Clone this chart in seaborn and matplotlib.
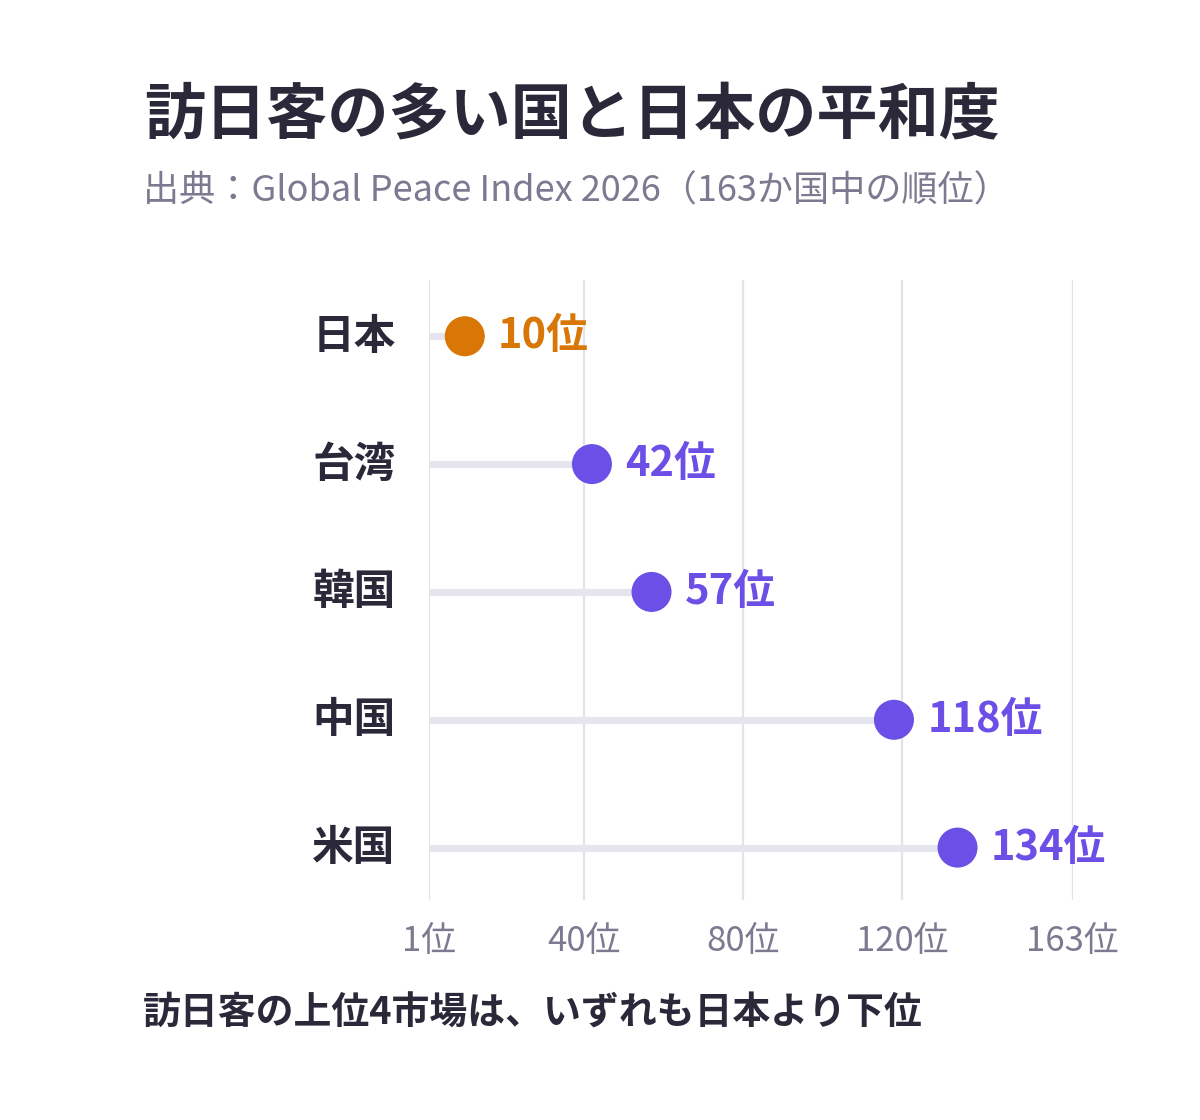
import matplotlib
matplotlib.use("Agg")
import matplotlib.pyplot as plt
import matplotlib.transforms as mtransforms
import seaborn as sns
import pandas as pd

# Data
countries = ["日本", "台湾", "韓国", "中国", "米国"]
ranks = [10, 42, 57, 118, 134]
groups = ["日本", "訪日客上位", "訪日客上位", "訪日客上位", "訪日客上位"]
tick_values = [1, 40, 80, 120, 163]
tick_labels = ["1位", "40位", "80位", "120位", "163位"]

title = "訪日客の多い国と日本の平和度"
subtitle = "出典：Global Peace Index 2026（163か国中の順位）"
footer = "訪日客の上位4市場は、いずれも日本より下位"

df = pd.DataFrame({"country": countries, "rank": ranks, "group": groups})
df["pos"] = range(len(df))

# Style
sns.set_theme(style="white")
plt.rcParams["font.family"] = ["Noto Sans CJK JP", "DejaVu Sans"]

palette = {"日本": "#D97706", "訪日客上位": "#6B4FE6"}
dark = "#2B2939"
gray = "#7C7A90"
grid_color = "#E4E2EA"
stem_color = "#E6E4EE"

fig = plt.figure(figsize=(12, 11.2), dpi=100)
ax = fig.add_axes([0.3575, 0.1964, 0.894 - 0.3575, 0.75 - 0.1964])

# vertical grid lines
for t in tick_values:
    ax.axvline(t, color=grid_color, lw=1.6, zorder=0)

# stems
ax.hlines(df["pos"], 1, df["rank"], color=stem_color, lw=5.2, zorder=1)

# dots
sns.scatterplot(data=df, x="rank", y="pos", hue="group", palette=palette,
                s=830, linewidth=0, legend=False, zorder=3, ax=ax)

# value labels
for _, r in df.iterrows():
    ax.annotate(f"{r['rank']}位", (r["rank"], r["pos"]), xytext=(24, 0),
                textcoords="offset points", ha="left", va="center",
                fontsize=30, fontweight="bold", color=palette[r["group"]])

ax.set_xlim(1, 163)
ax.set_ylim(4.41, -0.44)
ax.set_xticks(tick_values, tick_labels)
ax.set_yticks(df["pos"], countries)
ax.tick_params(axis="x", length=0, pad=17, labelsize=25, labelcolor=gray)
ax.tick_params(axis="y", length=0, pad=24, labelsize=30, labelcolor=dark)
shift = mtransforms.ScaledTranslation(0, 4 / 100, fig.dpi_scale_trans)
for lab in ax.get_yticklabels():
    lab.set_fontweight("bold")
    lab.set_transform(lab.get_transform() + shift)
for s in ax.spines.values():
    s.set_visible(False)
ax.set_xlabel("")
ax.set_ylabel("")

fig.text(0.12, 0.897, title, fontsize=44, fontweight="bold", color=dark,
         ha="left", va="center")
fig.text(0.119, 0.829, subtitle, fontsize=26, color=gray, ha="left", va="center")
fig.text(0.119, 0.0955, footer, fontsize=27.3, fontweight="bold", color=dark,
         ha="left", va="center")

fig.savefig("out.png", dpi=100, facecolor="white")
